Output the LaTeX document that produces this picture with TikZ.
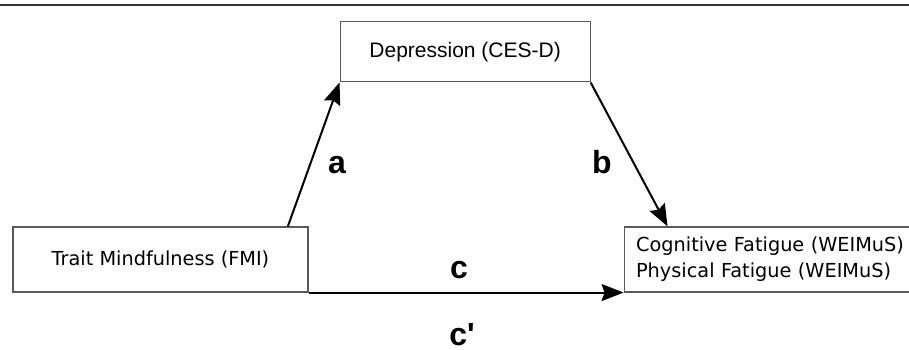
\documentclass[tikz,border=0pt]{standalone}
\usepackage{fontspec}
\setmainfont{Liberation Sans}
\newfontfamily\boxfont{DejaVu Sans}
\newfontfamily\lblfont{Liberation Sans}
\usepackage{tikz}
\usetikzlibrary{positioning,arrows.meta,calc}

\begin{document}
\begin{tikzpicture}[
  x=1pt,y=1pt,
  node distance=30pt and 30pt,
  vbox/.style={draw=black!65,line width=1.1pt,fill=white,inner sep=0pt},
  arr/.style={-{Stealth[length=22pt,width=17pt,inset=3pt]},line width=2pt,black},
  lbl/.style={font=\lblfont\fontsize{32}{36}\selectfont\bfseries,anchor=base,inner sep=0pt}
]
  \useasboundingbox (0,0) rectangle (909,349);
  % --- rule at the top ---
  \draw[line width=2pt,black!80] (0,343.5) -- (909,343.5);

  % --- boxes ---
  \node[vbox,minimum width=295pt,minimum height=65pt,
    font=\boxfont\fontsize{19.3}{26}\selectfont] (trait) at (160.5,89.5)
    {Trait Mindfulness (FMI)};
  \node[vbox,minimum width=250pt,minimum height=60pt,
    font=\fontsize{21}{25}\selectfont,anchor=south west,
    above right=144pt and 31pt of trait] (dep) {Depression (CES-D)};
  \node[vbox,minimum height=65pt,inner xsep=12pt,text width=293pt,align=left,
    font=\boxfont\fontsize{19.3}{26}\selectfont,right=315pt of trait] (fat)
    {Cognitive Fatigue (WEIMuS)\\Physical Fatigue (WEIMuS)};

  % --- paths ---
  \draw[arr] ($(trait.north west)!0.93!(trait.north east)$) -- (dep.south west);
  \draw[arr] (dep.south east) -- ([xshift=44pt]fat.north west);
  \draw[arr] (trait.south east) -- (fat.south west);

  % labels
  \node[lbl] (la) at (337,176) {a};
  \node[lbl] (lb) at (602,176) {b};
  \node[lbl] (lc) at (459,71) {c};
  \node[lbl] (lcp) at (462,4) {c'};
\end{tikzpicture}
\end{document}
